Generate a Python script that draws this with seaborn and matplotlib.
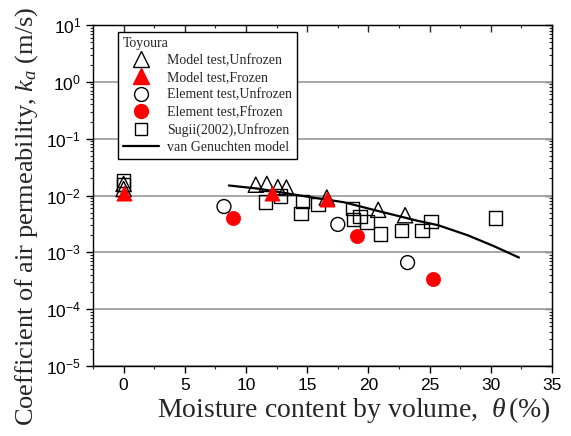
import matplotlib
matplotlib.use("Agg")
import matplotlib.pyplot as plt
import seaborn as sns
import pandas as pd
from matplotlib.lines import Line2D
from matplotlib.ticker import LogLocator, MultipleLocator, NullFormatter

# ---- data ----
model_unfrozen_x = [0, 0, 10.8, 11.7, 12.6, 13.3, 16.6, 20.8, 23.0]
model_unfrozen_y = [0.016, 0.013, 0.0155, 0.016, 0.014, 0.0138, 0.0092, 0.0056, 0.0045]
model_frozen_x = [0, 12.1, 16.6]
model_frozen_y = [0.011, 0.0109, 0.0087]
elem_unfrozen_x = [8.2, 17.5, 23.2]
elem_unfrozen_y = [0.0064, 0.0031, 0.00066]
elem_frozen_x = [8.9, 19.1, 25.3]
elem_frozen_y = [0.0040, 0.0019, 0.00034]
sugii_x = [0, 0, 11.6, 12.8, 14.6, 14.5, 15.9, 18.7, 18.8, 19.3, 19.9, 21.0, 22.7, 24.4, 25.1, 30.4]
sugii_y = [0.0185, 0.0155, 0.0077, 0.0098, 0.0079, 0.0048, 0.0069, 0.0059, 0.0038, 0.0043,
           0.0034, 0.0021, 0.0024, 0.0024, 0.0035, 0.0040]
vg_x = [8.6, 11, 14.4, 18, 21, 24, 25.7, 28.1, 30.2, 32.3]
vg_y = [0.015, 0.0132, 0.010, 0.0076, 0.0052, 0.0036, 0.0030, 0.0020, 0.0013, 0.00081]

legend_title = "Toyoura"
labels = ["Model test,Unfrozen", "Model test,Frozen", "Element test,Unfrozen",
          "Element test,Ffrozen", "Sugii(2002),Unfrozen", "van Genuchten model"]

sns.set_style("ticks")
plt.rcParams["font.family"] = ["Liberation Sans", "DejaVu Sans"]
plt.rcParams["mathtext.fontset"] = "custom"
plt.rcParams["mathtext.rm"] = "Liberation Serif"
plt.rcParams["mathtext.it"] = "Liberation Serif:italic"

fig = plt.figure(figsize=(5.71, 4.36), dpi=100)
ax = fig.add_axes([93/571, 1-366/436, (552-93)/571, (366-25)/436])
ax.set_yscale("log")

ms = 100
sns.lineplot(x=vg_x, y=vg_y, ax=ax, color="black", lw=1.6, sort=False, estimator=None, zorder=2)
sns.scatterplot(x=sugii_x, y=sugii_y, ax=ax, marker="s", s=ms*0.95, facecolor="none",
                edgecolor="black", linewidth=1.0, zorder=3)
sns.scatterplot(x=model_unfrozen_x, y=model_unfrozen_y, ax=ax, marker="^", s=ms*1.2, facecolor="none",
                edgecolor="black", linewidth=1.0, zorder=3)
sns.scatterplot(x=elem_unfrozen_x, y=elem_unfrozen_y, ax=ax, marker="o", s=ms, facecolor="none",
                edgecolor="black", linewidth=1.0, zorder=3)
sns.scatterplot(x=model_frozen_x, y=model_frozen_y, ax=ax, marker="^", s=ms*1.2, color="red",
                edgecolor="red", linewidth=0.5, zorder=4)
sns.scatterplot(x=elem_frozen_x, y=elem_frozen_y, ax=ax, marker="o", s=ms*1.05, color="red",
                edgecolor="red", linewidth=0.5, zorder=4)

ax.set_xlim(-2.5, 35)
ax.set_ylim(1e-5, 1e1)
ax.xaxis.set_major_locator(MultipleLocator(5))
ax.xaxis.set_minor_locator(MultipleLocator(2.5))
ax.yaxis.set_major_locator(LogLocator(base=10, numticks=20))
ax.yaxis.set_minor_locator(LogLocator(base=10, subs=range(2, 10), numticks=20))
ax.yaxis.set_minor_formatter(NullFormatter())
ax.grid(axis="y", which="major", color="#a0a0a0", lw=1.3)
ax.grid(axis="x", visible=False)
for sp in ax.spines.values():
    sp.set_color("black")
    sp.set_linewidth(1.0)
ax.tick_params(which="major", direction="out", length=5, width=1, labelsize=12.5, colors="black")
ax.tick_params(which="minor", direction="out", length=2.5, width=0.8)

secx = ax.secondary_xaxis("top")
secx.xaxis.set_major_locator(MultipleLocator(5))
secx.xaxis.set_minor_locator(MultipleLocator(2.5))
secx.tick_params(which="major", direction="in", length=5, width=1, labeltop=False)
secx.tick_params(which="minor", direction="in", length=2.5, width=0.8)
secy = ax.secondary_yaxis("right")
secy.yaxis.set_major_locator(LogLocator(base=10, numticks=20))
secy.yaxis.set_minor_locator(LogLocator(base=10, subs=range(2, 10), numticks=20))
secy.yaxis.set_minor_formatter(NullFormatter())
secy.tick_params(which="major", direction="in", length=5, width=1, labelright=False)
secy.tick_params(which="minor", direction="in", length=2.5, width=0.8)

ax.set_xlabel(r"Moisture content by volume,  $\mathit{\theta}\,$(%)", fontsize=20,
              family="Liberation Serif")
ax.xaxis.set_label_coords(0.569, -0.085)
ax.xaxis.label.set_va("top")
ax.set_ylabel(r"Coefficient of air permeability, $k_a$ (m/s)", fontsize=19,
              family="Liberation Serif")
ax.yaxis.set_label_coords(-0.115, 0.44)

handles = [
    Line2D([], [], ls="none", marker="^", ms=11, mfc="none", mec="black", mew=1.0),
    Line2D([], [], ls="none", marker="^", ms=11, mfc="red", mec="red"),
    Line2D([], [], ls="none", marker="o", ms=10, mfc="none", mec="black", mew=1.0),
    Line2D([], [], ls="none", marker="o", ms=10, mfc="red", mec="red"),
    Line2D([], [], ls="none", marker="s", ms=9, mfc="none", mec="black", mew=1.0),
    Line2D([], [], color="black", lw=1.6),
]
leg = ax.legend(handles, labels, title=legend_title, loc="upper left",
                bbox_to_anchor=(0.054, 0.979), borderaxespad=0, frameon=True, fancybox=False,
                edgecolor="black", framealpha=1, handlelength=2.6, handletextpad=0.6,
                labelspacing=0.3, borderpad=0.35, alignment="left",
                prop={"family": "Liberation Serif", "size": 10},
                title_fontproperties={"family": "Liberation Serif", "size": 10})
leg.get_frame().set_linewidth(1.0)

fig.savefig("out.png", dpi=100)
